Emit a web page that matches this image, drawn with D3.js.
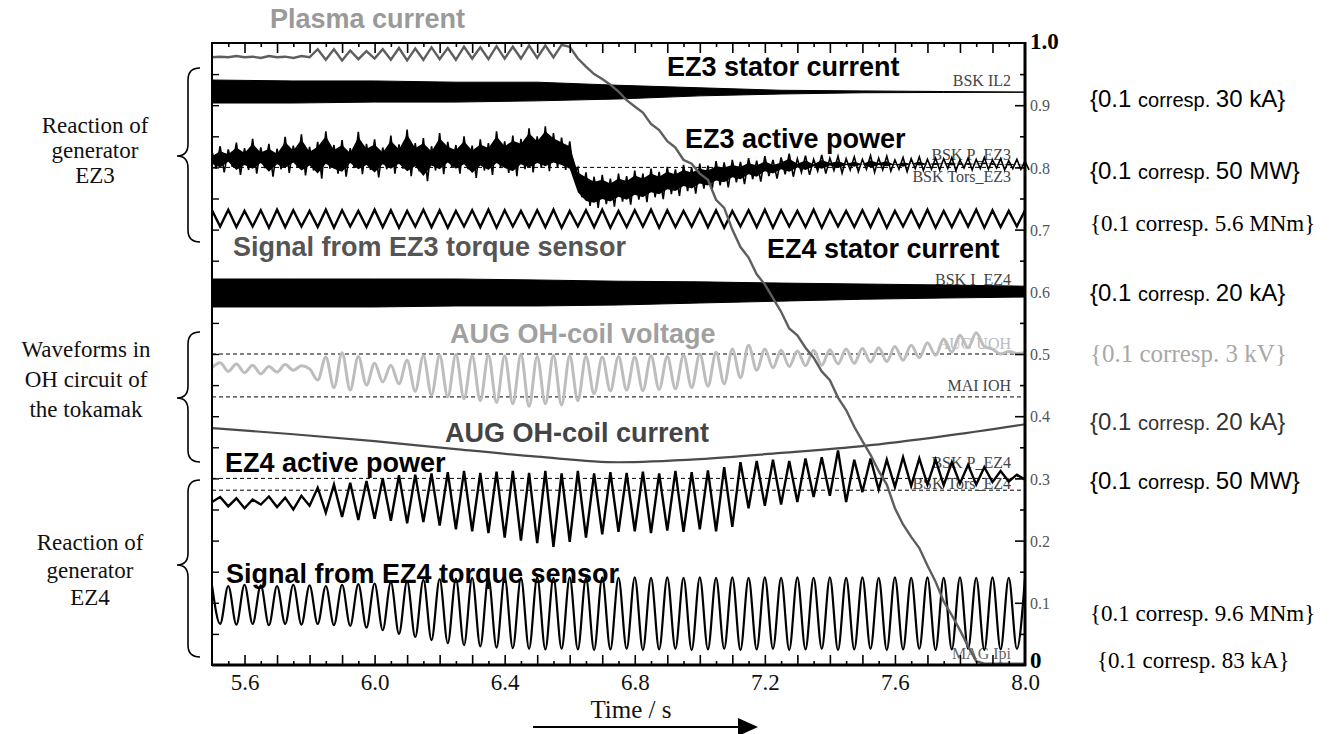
<!DOCTYPE html>
<html><head><meta charset="utf-8">
<script src="https://cdn.jsdelivr.net/npm/d3@7"></script>
<style>body{margin:0;background:#fff}</style>
</head><body>
<svg id="chart" width="1334" height="734"></svg>
<script>
// ---------------- DATA ----------------
const xTickLabels = [5.6, 6.0, 6.4, 6.8, 7.2, 7.6, 8.0];
const yTickLabels = [0, 0.1, 0.2, 0.3, 0.4, 0.5, 0.6, 0.7, 0.8, 0.9, 1.0];
const sampleStart = 5.5;      // s, first sample of the sampled series
const sampleStep = 0.025;     // s, spacing of the sampled series

const plasmaCurrent = [
0.977,0.978,0.977,0.979,0.977,0.978,0.976,0.979,0.977,0.978,
0.976,0.979,0.977,0.990,0.973,0.990,0.972,0.988,0.974,0.987,
0.975,0.990,0.973,0.992,0.972,0.991,0.973,0.993,0.974,0.992,
0.973,0.994,0.975,0.993,0.974,0.995,0.975,0.994,0.975,0.996,
0.976,0.996,0.977,0.997,0.994,0.975,0.962,0.950,0.942,0.933,
0.922,0.908,0.898,0.888,0.870,0.860,0.842,0.832,0.812,0.806,
0.790,0.780,0.748,0.735,0.700,0.672,0.655,0.628,0.612,0.590,
0.568,0.541,0.530,0.510,0.494,0.472,0.458,0.430,0.410,0.383,
0.360,0.338,0.312,0.290,0.252,0.226,0.206,0.188,0.160,0.134,
0.102,0.080,0.056,0.030,0.006,0.002,0.002,0.002,0.002,0.002,
0.002];

const ez3Torque = [
0.731,0.705,0.732,0.704,0.730,0.705,0.731,0.703,0.732,0.704,
0.731,0.705,0.730,0.704,0.732,0.703,0.731,0.705,0.730,0.704,
0.732,0.704,0.731,0.703,0.730,0.705,0.732,0.704,0.731,0.703,
0.730,0.705,0.731,0.704,0.732,0.703,0.731,0.705,0.730,0.704,
0.731,0.704,0.732,0.703,0.730,0.705,0.731,0.704,0.732,0.703,
0.730,0.704,0.731,0.705,0.732,0.703,0.731,0.704,0.730,0.705,
0.732,0.704,0.731,0.703,0.730,0.705,0.731,0.704,0.732,0.703,
0.731,0.705,0.730,0.704,0.732,0.703,0.731,0.705,0.730,0.704,
0.731,0.704,0.732,0.703,0.730,0.705,0.731,0.704,0.732,0.703,
0.730,0.704,0.731,0.705,0.732,0.703,0.731,0.704,0.730,0.705,
0.731];

const ez3PowerUpper = [
0.826,0.834,0.829,0.840,0.831,0.846,0.832,0.838,0.830,0.849,
0.835,0.853,0.833,0.841,0.858,0.836,0.844,0.831,0.857,0.838,
0.845,0.832,0.851,0.837,0.861,0.839,0.847,0.834,0.855,0.841,
0.836,0.850,0.835,0.845,0.839,0.858,0.842,0.851,0.846,0.863,
0.850,0.866,0.855,0.848,0.842,0.800,0.792,0.785,0.788,0.782,
0.790,0.786,0.795,0.790,0.798,0.793,0.801,0.797,0.804,0.800,
0.806,0.803,0.810,0.808,0.812,0.809,0.815,0.811,0.818,0.812,
0.816,0.822,0.814,0.819,0.813,0.820,0.815,0.818,0.814,0.817,
0.813,0.819,0.815,0.818,0.812,0.816,0.814,0.817,0.813,0.815,
0.814,0.816,0.812,0.815,0.813,0.816,0.812,0.814,0.811,0.813,
0.810];
const ez3PowerLower = [
0.798,0.792,0.801,0.788,0.796,0.790,0.799,0.785,0.797,0.791,
0.800,0.787,0.795,0.782,0.798,0.790,0.785,0.799,0.789,0.796,
0.784,0.797,0.790,0.798,0.786,0.794,0.778,0.795,0.789,0.800,
0.790,0.797,0.783,0.795,0.788,0.799,0.791,0.786,0.797,0.792,
0.799,0.794,0.800,0.796,0.790,0.752,0.738,0.735,0.741,0.737,
0.745,0.740,0.748,0.744,0.752,0.749,0.757,0.754,0.762,0.758,
0.766,0.763,0.771,0.768,0.776,0.773,0.781,0.777,0.786,0.782,
0.789,0.785,0.792,0.788,0.794,0.790,0.795,0.791,0.796,0.793,
0.797,0.792,0.796,0.794,0.797,0.793,0.798,0.795,0.797,0.796,
0.798,0.795,0.799,0.796,0.798,0.797,0.799,0.796,0.798,0.797,
0.796];

const ohVoltage = [
0.478,0.486,0.472,0.484,0.470,0.482,0.468,0.480,0.471,0.483,
0.474,0.481,0.476,0.458,0.495,0.446,0.502,0.442,0.496,0.450,
0.485,0.455,0.482,0.452,0.490,0.440,0.497,0.434,0.498,0.431,
0.499,0.428,0.497,0.425,0.498,0.422,0.497,0.420,0.499,0.416,
0.496,0.420,0.498,0.418,0.497,0.425,0.496,0.436,0.495,0.441,
0.496,0.442,0.495,0.441,0.497,0.443,0.496,0.444,0.498,0.446,
0.500,0.448,0.503,0.452,0.508,0.462,0.514,0.474,0.508,0.478,
0.506,0.480,0.505,0.481,0.506,0.482,0.507,0.484,0.508,0.485,
0.509,0.487,0.510,0.488,0.512,0.490,0.514,0.494,0.518,0.498,
0.524,0.503,0.530,0.510,0.534,0.512,0.508,0.500,0.504,0.501,
0.502];

const ez4Power = [
0.262,0.270,0.255,0.268,0.252,0.266,0.258,0.271,0.254,0.269,
0.250,0.272,0.256,0.285,0.245,0.290,0.238,0.293,0.233,0.296,
0.235,0.300,0.232,0.305,0.228,0.306,0.230,0.308,0.224,0.310,
0.218,0.312,0.215,0.309,0.212,0.311,0.205,0.312,0.200,0.309,
0.196,0.312,0.190,0.308,0.198,0.312,0.205,0.308,0.210,0.310,
0.214,0.309,0.215,0.311,0.212,0.308,0.216,0.312,0.214,0.310,
0.218,0.313,0.215,0.318,0.222,0.326,0.252,0.328,0.256,0.330,
0.258,0.328,0.262,0.332,0.270,0.334,0.272,0.345,0.262,0.330,
0.278,0.332,0.282,0.330,0.286,0.334,0.288,0.332,0.290,0.330,
0.289,0.326,0.292,0.322,0.290,0.318,0.294,0.312,0.295,0.306,
0.298];

const ez4Torque = [
0.128,0.066,0.127,0.065,0.129,0.066,0.128,0.064,0.127,0.066,
0.129,0.065,0.128,0.066,0.127,0.064,0.129,0.063,0.130,0.060,
0.131,0.056,0.133,0.050,0.135,0.045,0.137,0.040,0.138,0.035,
0.139,0.032,0.140,0.030,0.140,0.028,0.141,0.027,0.140,0.026,
0.141,0.025,0.140,0.026,0.141,0.025,0.140,0.024,0.141,0.025,
0.140,0.026,0.141,0.024,0.140,0.025,0.141,0.026,0.140,0.024,
0.141,0.025,0.140,0.026,0.141,0.024,0.140,0.025,0.141,0.026,
0.140,0.024,0.141,0.025,0.140,0.026,0.141,0.024,0.140,0.025,
0.141,0.026,0.140,0.024,0.141,0.025,0.140,0.026,0.141,0.024,
0.140,0.025,0.141,0.026,0.140,0.024,0.141,0.025,0.140,0.026,
0.140];

// envelopes of the dense stator-current bands
const bandTimes = [5.5, 5.75, 6.0, 6.25, 6.5, 6.75, 7.0, 7.25, 7.5, 7.75, 8.0];
const ez3StatorUpper = [0.9405, 0.939, 0.939, 0.937, 0.937, 0.932, 0.928, 0.924, 0.923, 0.922, 0.921];
const ez3StatorLower = [0.9035, 0.9035, 0.905, 0.905, 0.907, 0.910, 0.915, 0.918, 0.920, 0.9205, 0.921];
const ez4StatorUpper = [0.6206, 0.6206, 0.6206, 0.6206, 0.619, 0.617, 0.616, 0.614, 0.6125, 0.611, 0.609];
const ez4StatorLower = [0.5756, 0.5756, 0.5756, 0.5772, 0.5772, 0.5788, 0.582, 0.585, 0.588, 0.590, 0.5916];

// smooth OH-coil current
const ohCurrentTimes = [5.5, 5.75, 6.0, 6.25, 6.5, 6.75, 7.0, 7.25, 7.5, 7.75, 8.0];
const ohCurrent      = [0.381, 0.371, 0.360, 0.347, 0.335, 0.326, 0.331, 0.341, 0.352, 0.368, 0.387];

// dashed reference levels
const refLevels = [0.8, 0.5, 0.431, 0.3, 0.281];

// ---------------- CHART ----------------
const svg = d3.select("#chart");
const x = d3.scaleLinear().domain([5.5, 8.0]).range([212, 1025]);
const y = d3.scaleLinear().domain([0, 1]).range([665, 43]);
const tOf = i => sampleStart + i * sampleStep;

const SANS = "'Liberation Sans', Arial, sans-serif";
const SERIF = "'Liberation Serif', 'Times New Roman', serif";

// reference dashed lines
svg.append("g").selectAll("line").data(refLevels).join("line")
  .attr("x1", x(5.5)).attr("x2", x(8.0))
  .attr("y1", d => y(d)).attr("y2", d => y(d))
  .attr("stroke", "#000").attr("stroke-width", 1)
  .attr("stroke-dasharray", "4,3");

// channel name labels (small, under the signals)
const chanLabels = [
  ["BSK IL2", 86, "#444"], ["BSK P_EZ3", 160, "#444"], ["BSK Tors_EZ3", 182, "#444"],
  ["BSK I_EZ4", 285, "#444"], ["AUG UOH", 349, "#bbb"], ["MAI IOH", 391, "#444"],
  ["BSK P_EZ4", 468, "#444"], ["BSK Tors_EZ4", 489, "#444"], ["MAG Ipi", 659, "#666"]
];
svg.append("g").selectAll("text").data(chanLabels).join("text")
  .attr("x", 1011).attr("y", d => d[1]).attr("text-anchor", "end")
  .attr("font-family", SERIF).attr("font-size", 16).attr("fill", d => d[2])
  .text(d => d[0]);

// bands
function band(up, lo) {
  return d3.area().x((d, i) => x(bandTimes[i])).y0((d, i) => y(lo[i])).y1((d, i) => y(up[i]))(up);
}
svg.append("path").attr("d", band(ez3StatorUpper, ez3StatorLower)).attr("fill", "#000")
  .attr("stroke", "#000").attr("stroke-width", 1);
svg.append("path").attr("d", band(ez4StatorUpper, ez4StatorLower)).attr("fill", "#000")
  .attr("stroke", "#000").attr("stroke-width", 1);

// EZ3 active power: noisy trace swinging between the read upper and lower values
const ez3PowerTrace = [];
ez3PowerUpper.forEach((u, i) => {
  ez3PowerTrace.push([tOf(i), u]);
  ez3PowerTrace.push([tOf(i) + sampleStep / 2, ez3PowerLower[i]]);
});
svg.append("path").attr("d", d3.line().x(d => x(d[0])).y(d => y(d[1]))(ez3PowerTrace))
  .attr("fill", "none").attr("stroke", "#000").attr("stroke-width", 1.6);
const pArea = d3.area().x((d, i) => x(tOf(i))).y0((d, i) => y(ez3PowerLower[i] + 0.008)).y1(d => y(d - 0.008));
svg.append("path").attr("d", pArea(ez3PowerUpper)).attr("fill", "#000");

function sampled(arr, curve) {
  return d3.line().x((d, i) => x(tOf(i))).y(d => y(d)).curve(curve || d3.curveLinear)(arr);
}
// EZ3 torque
svg.append("path").attr("d", sampled(ez3Torque)).attr("fill", "none")
  .attr("stroke", "#000").attr("stroke-width", 2.4).attr("stroke-linejoin", "miter");
// OH voltage
svg.append("path").attr("d", sampled(ohVoltage, d3.curveMonotoneX)).attr("fill", "none")
  .attr("stroke", "#bdbdbd").attr("stroke-width", 3);
// OH current
svg.append("path").attr("d", d3.line().x((d, i) => x(ohCurrentTimes[i])).y(d => y(d)).curve(d3.curveMonotoneX)(ohCurrent))
  .attr("fill", "none").attr("stroke", "#4a4a4a").attr("stroke-width", 2.2);
// EZ4 power
svg.append("path").attr("d", sampled(ez4Power)).attr("fill", "none")
  .attr("stroke", "#000").attr("stroke-width", 2.4);
// EZ4 torque
svg.append("path").attr("d", sampled(ez4Torque, d3.curveMonotoneX)).attr("fill", "none")
  .attr("stroke", "#000").attr("stroke-width", 2.2);
// plasma current (on top)
svg.append("path").attr("d", sampled(plasmaCurrent)).attr("fill", "none")
  .attr("stroke", "#5e5e5e").attr("stroke-width", 2.4);

// frame
svg.append("rect").attr("x", x(5.5)).attr("y", y(1)).attr("width", x(8) - x(5.5)).attr("height", y(0) - y(1))
  .attr("fill", "none").attr("stroke", "#000").attr("stroke-width", 2);
svg.append("line").attr("x1", x(8)).attr("x2", x(8)).attr("y1", y(1) - 1).attr("y2", y(0) + 1)
  .attr("stroke", "#000").attr("stroke-width", 3);
svg.append("line").attr("x1", x(5.5)).attr("x2", x(8) + 1).attr("y1", y(0)).attr("y2", y(0))
  .attr("stroke", "#000").attr("stroke-width", 3);

// x ticks top & bottom (inward)
const xMinor = d3.range(5.55, 8.0, 0.05).map(v => +v.toFixed(2));
const gxb = svg.append("g").attr("transform", `translate(0,${y(0)})`)
  .call(d3.axisBottom(x).tickValues(xMinor).tickSize(-9).tickFormat(""));
gxb.selectAll(".tick line").attr("y2", d => (Math.round(d * 100) % 10 === 0 ? -10 : -4)).attr("stroke-width", 1.6);
gxb.select(".domain").remove();
const gxt = svg.append("g").attr("transform", `translate(0,${y(1)})`)
  .call(d3.axisTop(x).tickValues(xMinor).tickSize(-9).tickFormat(""));
gxt.selectAll(".tick line").attr("y2", d => (Math.round(d * 100) % 10 === 0 ? 10 : 4)).attr("stroke-width", 1.6);
gxt.select(".domain").remove();
// x tick labels
const gxl = svg.append("g").attr("transform", `translate(0,${y(0)})`)
  .call(d3.axisBottom(x).tickValues(xTickLabels).tickSize(0).tickPadding(0).tickFormat(d3.format(".1f")));
gxl.select(".domain").remove();
gxl.selectAll("text").attr("y", 25).attr("dy", 0).attr("font-family", SERIF).attr("font-size", 23).attr("fill", "#111");

// y ticks right (inward) and left (inward)
const yMinor = d3.range(0.05, 1.0, 0.05).map(v => +v.toFixed(2));
const gyr = svg.append("g").attr("transform", `translate(${x(8)},0)`)
  .call(d3.axisRight(y).tickValues(yMinor).tickSize(-9).tickFormat(""));
gyr.selectAll(".tick line").attr("x2", d => (Math.round(d * 100) % 10 === 0 ? -10 : -5)).attr("stroke-width", 1.6);
gyr.select(".domain").remove();
const gyl = svg.append("g").attr("transform", `translate(${x(5.5)},0)`)
  .call(d3.axisLeft(y).tickValues(yMinor).tickSize(-7).tickFormat(""));
gyl.selectAll(".tick line").attr("stroke-width", 1.4);
gyl.select(".domain").remove();
// y tick labels
const gyl2 = svg.append("g").attr("transform", `translate(${x(8)},0)`)
  .call(d3.axisRight(y).tickValues(yTickLabels).tickSize(0).tickPadding(5)
    .tickFormat(d => (d === 0 ? "0" : d === 1 ? "1.0" : d3.format(".1f")(d))));
gyl2.select(".domain").remove();
gyl2.selectAll("text").attr("font-family", SERIF)
  .attr("font-size", d => (d === 0 || d === 1) ? 23 : 16)
  .attr("font-weight", d => (d === 0 || d === 1) ? "bold" : "normal")
  .attr("fill", d => (d === 0 || d === 1) ? "#000" : "#555")
  .attr("dy", d => d === 1 ? "0.22em" : d === 0 ? "0.1em" : "0.35em");

// signal titles
const titles = [
  ["Plasma current", 270, 28, "#9a9a9a"],
  ["EZ3 stator current", 667, 76, "#000"],
  ["EZ3 active power", 685, 148, "#000"],
  ["Signal from EZ3 torque sensor", 233, 256, "#555"],
  ["EZ4 stator current", 767, 258, "#000"],
  ["AUG OH-coil voltage", 450, 343, "#a0a0a0"],
  ["AUG OH-coil current", 445, 442, "#444"],
  ["EZ4 active power", 225, 472, "#000"],
  ["Signal from EZ4 torque sensor", 226, 583, "#000"]
];
svg.append("g").selectAll("text").data(titles).join("text")
  .attr("x", d => d[1]).attr("y", d => d[2]).attr("fill", d => d[3])
  .attr("font-family", SANS).attr("font-weight", "bold").attr("font-size", 27)
  .text(d => d[0]);

// scale notes on the right
const notes = [
  {y: 107, font: "sans", color: "#000", a: "{0.1 ", b: "corresp. ", c: "30 kA}"},
  {y: 179, font: "sans", color: "#000", a: "{0.1 ", b: "corresp. ", c: "50 MW}"},
  {y: 231, font: "serif", color: "#000", a: "{0.1 ", b: "corresp. ", c: "5.6 MNm}"},
  {y: 301, font: "sans", color: "#000", a: "{0.1 ", b: "corresp. ", c: "20 kA}"},
  {y: 362, font: "serif", color: "#a8a8a8", a: "{0.1 ", b: "corresp. ", c: "3 kV}", size: 25},
  {y: 430, font: "sans", color: "#333", a: "{0.1 ", b: "corresp. ", c: "20 kA}"},
  {y: 489, font: "sans", color: "#000", a: "{0.1 ", b: "corresp. ", c: "50 MW}"},
  {y: 621, font: "serif", color: "#000", a: "{0.1 ", b: "corresp. ", c: "9.6 MNm}"},
  {y: 668, font: "serif", color: "#000", a: "{0.1 ", b: "corresp. ", c: "83 kA}", x: 1097}
];
notes.forEach(n => {
  const t = svg.append("text").attr("x", n.x || 1090).attr("y", n.y).attr("fill", n.color)
    .attr("font-family", n.font === "sans" ? SANS : SERIF).style("white-space", "pre");
  if (n.font === "sans") {
    t.append("tspan").attr("font-size", 24).text(n.a);
    t.append("tspan").attr("font-size", 20).text(n.b);
    t.append("tspan").attr("font-size", 24).text(n.c);
  } else {
    t.attr("font-size", n.size || 23).text(n.a + n.b + n.c);
  }
});

// group labels with braces on the left
const groups = [
  {lines: ["Reaction of", "generator", "EZ3"], cx: 95, y0: 133, dy: 25, top: 68, bottom: 242, tip: 156},
  {lines: ["Waveforms in", "OH circuit of", "the tokamak"], cx: 86, y0: 357, dy: 30, top: 332, bottom: 462, tip: 398},
  {lines: ["Reaction of", "generator", "EZ4"], cx: 90, y0: 550, dy: 27.5, top: 480, bottom: 657, tip: 565}
];
groups.forEach(g => {
  svg.append("g").selectAll("text").data(g.lines).join("text")
    .attr("x", g.cx).attr("y", (d, i) => g.y0 + i * g.dy).attr("text-anchor", "middle")
    .attr("font-family", SERIF).attr("font-size", 23).attr("fill", "#111").text(d => d);
  const xr = 200, xm = 188, xt = 177, r = 12;
  const p = d3.path();
  p.moveTo(xr, g.top);
  p.quadraticCurveTo(xm, g.top, xm, g.top + r);
  p.lineTo(xm, g.tip - r);
  p.quadraticCurveTo(xm, g.tip, xt, g.tip);
  p.quadraticCurveTo(xm, g.tip, xm, g.tip + r);
  p.lineTo(xm, g.bottom - r);
  p.quadraticCurveTo(xm, g.bottom, xr, g.bottom);
  svg.append("path").attr("d", p.toString()).attr("fill", "none").attr("stroke", "#000").attr("stroke-width", 1.6);
});

// x-axis title and arrow
svg.append("text").attr("x", 631).attr("y", 718).attr("text-anchor", "middle")
  .attr("font-family", SERIF).attr("font-size", 25).attr("fill", "#111").text("Time / s");
svg.append("line").attr("x1", 533).attr("x2", 742).attr("y1", 727).attr("y2", 727)
  .attr("stroke", "#000").attr("stroke-width", 2);
svg.append("path").attr("d", "M738,718 L758,727 L738,736 Z").attr("fill", "#000");
</script>
</body></html>
